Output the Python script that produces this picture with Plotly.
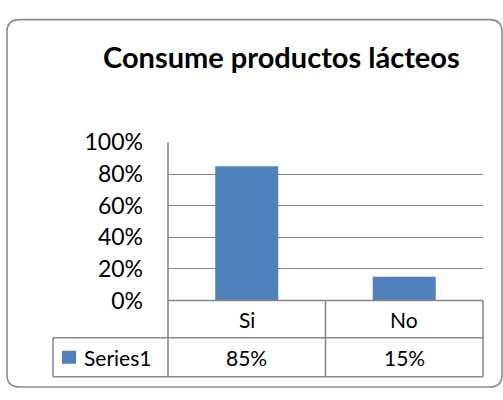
import plotly.graph_objects as go

categories = ["Si", "No"]
values = [0.85, 0.15]
series_name = "Series1"
title_text = "Consume productos lácteos"
tick_vals = [0, 0.2, 0.4, 0.6, 0.8, 1.0]

W, H = 503, 400
def X(px): return px / W
def Y(py): return 1 - py / H

BAR = "#4F81BD"
LINE = "#898989"
FONT = "Lato, Carlito, Calibri, sans-serif"

fig = go.Figure()
fig.add_trace(go.Bar(x=categories, y=values, marker=dict(color=BAR, line=dict(width=0)),
                     name=series_name, showlegend=False, hoverinfo="skip"))

# plot area pixels
pl, pr, pt, pb = 168, 483, 137, 307
row1_b, row2_b, tab_l = 347, 389, 53

shapes = []
def line(x0, y0, x1, y1, xref="paper", w=1.6):
    shapes.append(dict(type="line", xref=xref, yref="paper", x0=x0, x1=x1, y0=Y(y0), y1=Y(y1),
                       line=dict(color=LINE, width=w)))

# table lines
line(X(pl), pb, X(pr), pb)
line(X(tab_l), row1_b, X(pr), row1_b)
line(X(tab_l), row2_b, X(pr), row2_b)
line(X(pl), pt, X(pl), row2_b)
line(X(pr), pb, X(pr), row2_b)
line(X(tab_l), row1_b, X(tab_l), row2_b)
line(0.5, pb, 0.5, row2_b, xref="x")

# rounded outer border
bx0, by0, bx1, by1, r = 7, 5, 502, 400, 13
def P(px, py): return f"{X(px):.5f},{Y(py):.5f}"
path = (f"M {P(bx0 + r, by0)} L {P(bx1 - r, by0)} Q {P(bx1, by0)} {P(bx1, by0 + r)} "
        f"L {P(bx1, by1 - r)} Q {P(bx1, by1)} {P(bx1 - r, by1)} "
        f"L {P(bx0 + r, by1)} Q {P(bx0, by1)} {P(bx0, by1 - r)} "
        f"L {P(bx0, by0 + r)} Q {P(bx0, by0)} {P(bx0 + r, by0)} Z")
shapes.append(dict(type="path", xref="paper", yref="paper", path=path,
                   line=dict(color="#8a8a8a", width=1.6)))

# legend key square
shapes.append(dict(type="rect", xref="paper", yref="paper", x0=X(62), x1=X(76), y0=Y(361), y1=Y(375),
                   fillcolor=BAR, line=dict(width=0)))

annotations = [dict(text=f"<b>{title_text}</b>", xref="paper", yref="paper", x=X(281), y=Y(45),
                    xanchor="center", yanchor="middle", showarrow=False,
                    font=dict(family=FONT, size=29, color="#000"))]
for c, v in zip(categories, values):
    annotations.append(dict(text=c, xref="x", yref="paper", x=c, y=Y(327), xanchor="center",
                            yanchor="middle", showarrow=False, font=dict(family=FONT, size=21, color="#000")))
    annotations.append(dict(text=f"{v:.0%}", xref="x", yref="paper", x=c, y=Y(368), xanchor="center",
                            yanchor="middle", showarrow=False, font=dict(family=FONT, size=21, color="#000")))
annotations.append(dict(text=series_name, xref="paper", yref="paper", x=X(82), y=Y(368), xanchor="left",
                        yanchor="middle", showarrow=False, font=dict(family=FONT, size=21, color="#000")))

fig.update_layout(
    width=W, height=H, margin=dict(l=0, r=0, t=0, b=0),
    paper_bgcolor="white", plot_bgcolor="white",
    bargap=0.6, shapes=shapes, annotations=annotations,
    xaxis=dict(domain=[X(pl), X(pr)], range=[-0.5, 1.5], showticklabels=False, showgrid=False,
               zeroline=False, showline=False, fixedrange=True),
    yaxis=dict(domain=[Y(pb), Y(pt)], range=[0, 1], tickvals=tick_vals, tickformat=".0%",
               showgrid=True, gridcolor="#868686", gridwidth=1.2, zeroline=False, showline=False,
               ticks="", ticklabelstandoff=24, tickfont=dict(family=FONT, size=23, color="#000"),
               fixedrange=True),
)
fig.write_html("out.html")
